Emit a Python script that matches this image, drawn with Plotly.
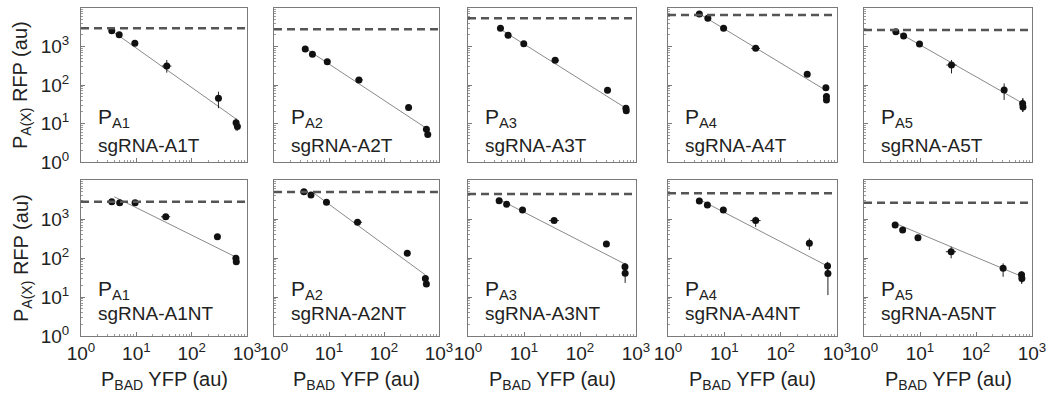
import plotly.graph_objects as go

# ---------------- data ----------------
promoters = ["A1", "A2", "A3", "A4", "A5"]
guides_T = ["sgRNA-A1T", "sgRNA-A2T", "sgRNA-A3T", "sgRNA-A4T", "sgRNA-A5T"]
guides_NT = ["sgRNA-A1NT", "sgRNA-A2NT", "sgRNA-A3NT", "sgRNA-A4NT", "sgRNA-A5NT"]

# PBAD YFP (x) per panel, targeting guides (top row)
yfp_T = [
    [3.6, 4.9, 9.4, 35.5, 305, 635, 670],
    [3.7, 5.0, 9.3, 35, 280, 590, 625],
    [3.8, 5.2, 9.9, 36, 310, 660, 670],
    [3.6, 5.1, 9.7, 36, 296, 635, 650, 650],
    [3.7, 5.1, 9.8, 36.5, 318, 680, 690],
]
yfp_lo_T = [
    [3.6, 4.9, 9.4, 29, 305, 635, 670],
    [3.7, 5.0, 9.3, 30, 280, 590, 625],
    [3.8, 5.2, 9.9, 31, 310, 660, 670],
    [3.6, 5.1, 9.7, 30, 296, 635, 650, 650],
    [3.7, 5.1, 9.8, 29.6, 318, 680, 690],
]
yfp_hi_T = [
    [3.6, 4.9, 9.4, 43, 305, 635, 670],
    [3.7, 5.0, 9.3, 41, 280, 590, 625],
    [3.8, 5.2, 9.9, 42, 310, 660, 670],
    [3.6, 5.1, 9.7, 43, 296, 635, 650, 650],
    [3.7, 5.1, 9.8, 45, 318, 680, 690],
]
# PA(X) RFP (y) per panel, targeting guides
rfp_T = [
    [2570, 2030, 1210, 310, 45, 10.5, 8.3],
    [861, 626, 403, 135, 26, 7.1, 5.2],
    [2960, 1950, 1180, 437, 73, 25, 21.5],
    [6970, 5400, 2960, 896, 190, 85, 50, 41],
    [2410, 1880, 1160, 330, 74, 33, 27],
]
rfp_lo_T = [
    [2300, 2030, 1210, 209, 25, 6.5, 6.5],
    [861, 626, 403, 135, 26, 7.1, 5.2],
    [2960, 1950, 1180, 437, 73, 25, 21.5],
    [6970, 5400, 2960, 896, 190, 85, 50, 41],
    [2410, 1880, 1160, 200, 41, 20, 20],
]
rfp_hi_T = [
    [2800, 2030, 1210, 447, 67, 13.6, 10],
    [861, 626, 403, 135, 26, 7.1, 5.2],
    [2960, 1950, 1180, 437, 73, 25, 21.5],
    [6970, 5400, 2960, 896, 190, 85, 50, 41],
    [2410, 1880, 1160, 447, 110, 45, 45],
]
fit_x_T = [[3.3, 650], [3.7, 617], [3.8, 660], [3.7, 620], [3.6, 720]]
fit_y_T = [[2800, 12.8], [895, 7.2], [2800, 25], [6900, 74], [2570, 32]]
max_T = [2970, 2800, 5400, 6600, 2690]

# non-targeting guides (bottom row)
yfp_NT = [
    [3.6, 5.0, 9.5, 34, 292, 630, 640],
    [3.5, 4.7, 9.0, 33, 265, 565, 590],
    [3.6, 4.9, 9.4, 34.5, 296, 635, 640],
    [3.6, 5.0, 9.6, 36, 323, 680, 690],
    [3.6, 4.9, 9.2, 36, 305, 650, 660],
]
yfp_lo_NT = [
    [3.6, 5.0, 9.5, 28, 292, 630, 640],
    [3.5, 4.7, 9.0, 28, 265, 565, 590],
    [3.6, 4.9, 9.4, 28, 296, 635, 640],
    [3.6, 5.0, 9.6, 29, 323, 680, 690],
    [3.6, 4.9, 9.2, 29, 305, 650, 660],
]
yfp_hi_NT = [
    [3.6, 5.0, 9.5, 41, 292, 630, 640],
    [3.5, 4.7, 9.0, 40, 265, 565, 590],
    [3.6, 4.9, 9.4, 42, 296, 635, 640],
    [3.6, 5.0, 9.6, 44, 323, 680, 690],
    [3.6, 4.9, 9.2, 44, 305, 650, 660],
]
rfp_NT = [
    [2770, 2620, 2600, 1140, 352, 98, 80],
    [5000, 4150, 2680, 825, 132, 30, 21.6],
    [2940, 2390, 1700, 910, 228, 60, 40.5],
    [2890, 2290, 1700, 910, 238, 62, 40],
    [700, 525, 331, 145, 55, 37, 30],
]
rfp_lo_NT = [
    [2770, 2620, 2600, 1140, 352, 98, 80],
    [5000, 4150, 2680, 825, 132, 30, 21.6],
    [2600, 2150, 1700, 910, 228, 50, 23],
    [2600, 2000, 1500, 630, 160, 45, 11.2],
    [650, 470, 280, 98, 33, 22, 22],
]
rfp_hi_NT = [
    [2770, 2620, 2600, 1140, 352, 98, 80],
    [5000, 4150, 2680, 825, 132, 30, 21.6],
    [3300, 2650, 1700, 910, 228, 75, 55],
    [3200, 2700, 1900, 1150, 318, 80, 66],
    [760, 590, 390, 195, 73, 45, 45],
]
fit_x_NT = [[4.0, 610], [5.2, 569], [3.6, 635], [3.6, 680], [3.6, 680]]
fit_y_NT = [[3720, 108], [4700, 36.5], [3180, 70], [3180, 62], [775, 33]]
max_NT = [2770, 4900, 4370, 4570, 2620]

tick_vals_x = [1, 10, 100, 1000]
tick_text_x = ["10<sup>0</sup>", "10<sup>1</sup>", "10<sup>2</sup>", "10<sup>3</sup>"]
tick_vals_y = [1, 10, 100, 1000]
tick_text_y = ["10<sup>0</sup>", "10<sup>1</sup>", "10<sup>2</sup>", "10<sup>3</sup>"]

y_title = "P<sub>A(X)</sub> RFP (au)"
x_title = "P<sub>BAD</sub> YFP (au)"

# ---------------- layout geometry ----------------
W, H = 1051, 398
FONT = "Liberation Sans, Arial, sans-serif"
TXT = "#222222"
col_px = [(81, 247), (274, 439), (468, 636), (668, 837), (864, 1032)]
row_px = [(8, 162), (180, 336)]
minor_x = [m * 10 ** k for k in range(3) for m in range(2, 10)]
minor_y = [m * 10 ** k for k in range(4) for m in range(2, 10)]

fig = go.Figure()
layout = {}
annotations = []
shapes = []

rows = [
    (yfp_T, yfp_lo_T, yfp_hi_T, rfp_T, rfp_lo_T, rfp_hi_T, fit_x_T, fit_y_T, max_T, guides_T),
    (yfp_NT, yfp_lo_NT, yfp_hi_NT, rfp_NT, rfp_lo_NT, rfp_hi_NT, fit_x_NT, fit_y_NT, max_NT, guides_NT),
]

for r, (xs, xlo, xhi, ys, ylo, yhi, fx, fy, mx, guides) in enumerate(rows):
    top, bot = row_px[r]
    for c in range(5):
        n = r * 5 + c + 1
        sfx = "" if n == 1 else str(n)
        xa, ya = "x" + sfx, "y" + sfx
        left, right = col_px[c]

        common = dict(
            type="log", showgrid=False, zeroline=False, showline=True, mirror=True,
            linecolor="#7a7a7a", linewidth=1, ticks="inside", ticklen=4,
            tickcolor="#7a7a7a", tickmode="array",
            tickfont=dict(family=FONT, size=19, color=TXT),
        )
        layout["xaxis" + sfx] = dict(
            common, domain=[left / W, right / W], anchor=ya, range=[0, 3],
            tickvals=tick_vals_x, ticktext=tick_text_x,
            showticklabels=(r == 1),
            minor=dict(tickmode="array", tickvals=minor_x, ticks="inside", ticklen=2, tickcolor="#9a9a9a"),
        )
        layout["yaxis" + sfx] = dict(
            common, domain=[(H - bot) / H, (H - top) / H], anchor=xa, range=[0, 4],
            tickvals=tick_vals_y, ticktext=tick_text_y,
            showticklabels=(c == 0), ticklabelstandoff=7,
            minor=dict(tickmode="array", tickvals=minor_y, ticks="inside", ticklen=2, tickcolor="#9a9a9a"),
        )

        # dashed maximum level
        shapes.append(dict(
            type="line", xref=xa + " domain", yref=ya, x0=0, x1=1,
            y0=mx[c], y1=mx[c],
            line=dict(color="#555555", width=2.5, dash="8px,5px"),
        ))

        # fit line
        fig.add_trace(go.Scatter(
            x=fx[c], y=fy[c], mode="lines", xaxis=xa, yaxis=ya,
            line=dict(color="#8a8a8a", width=1), showlegend=False, hoverinfo="skip",
        ))
        # data points with error bars
        fig.add_trace(go.Scatter(
            x=xs[c], y=ys[c], mode="markers", xaxis=xa, yaxis=ya,
            marker=dict(size=7, color="#111111", symbol="circle"),
            error_x=dict(type="data", symmetric=False,
                         array=[h - v for h, v in zip(xhi[c], xs[c])],
                         arrayminus=[v - l for l, v in zip(xlo[c], xs[c])],
                         thickness=1, width=0, color="#222222"),
            error_y=dict(type="data", symmetric=False,
                         array=[h - v for h, v in zip(yhi[c], ys[c])],
                         arrayminus=[v - l for l, v in zip(ylo[c], ys[c])],
                         thickness=1, width=0, color="#222222"),
            showlegend=False,
        ))

        # in-panel labels
        annotations.append(dict(
            text="P<sub>" + promoters[c] + "</sub>", xref=xa + " domain", yref=ya + " domain",
            x=0.09, y=0.285 if r == 0 else 0.295, xanchor="left", yanchor="middle", showarrow=False,
            font=dict(family=FONT, size=21, color=TXT),
        ))
        annotations.append(dict(
            text=guides[c], xref=xa + " domain", yref=ya + " domain",
            x=0.09, y=0.11 if r == 0 else 0.145, xanchor="left", yanchor="middle", showarrow=False,
            font=dict(family=FONT, size=19, color=TXT),
        ))

        if r == 1:
            annotations.append(dict(
                text=x_title, xref="paper", yref="paper",
                x=(left + right) / 2 / W, y=(H - 380) / H, xanchor="center", yanchor="middle",
                showarrow=False, font=dict(family=FONT, size=20, color=TXT),
            ))
    annotations.append(dict(
        text=y_title, xref="paper", yref="paper", textangle=-90,
        x=22 / W, y=(H - (top + bot) / 2) / H, xanchor="center", yanchor="middle",
        showarrow=False, font=dict(family=FONT, size=20, color=TXT),
    ))

fig.update_layout(
    width=W, height=H,
    margin=dict(l=0, r=0, t=0, b=0, autoexpand=False),
    paper_bgcolor="white", plot_bgcolor="white",
    font=dict(family=FONT, color=TXT),
    annotations=annotations, shapes=shapes,
    **layout,
)

fig.write_html("out.html")
